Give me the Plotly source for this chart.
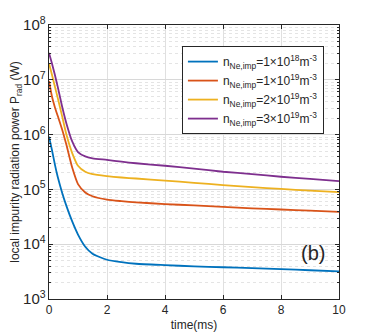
import plotly.graph_objects as go

time_ms = [0, 0.1, 0.2, 0.3, 0.45, 0.6, 0.8, 1.0, 1.25, 1.5, 2, 2.5, 3, 4, 5, 6, 7, 8, 9, 10]
p_1e18 = [9.2e5, 5.3e5, 2.9e5, 1.7e5, 8.8e4, 5.0e4, 2.6e4, 1.5e4, 9.0e3, 6.7e3, 5.2e3, 4.7e3, 4.4e3, 4.15e3, 3.95e3, 3.8e3, 3.65e3, 3.5e3, 3.35e3, 3.2e3]
p_1e19 = [9.5e6, 5.0e6, 3.2e6, 2.2e6, 1.25e6, 6.5e5, 2.5e5, 1.25e5, 8.8e4, 7.5e4, 6.5e4, 6.1e4, 5.8e4, 5.4e4, 5.1e4, 4.8e4, 4.5e4, 4.3e4, 4.1e4, 3.9e4]
p_2e19 = [2.0e7, 1.25e7, 7.6e6, 4.7e6, 2.2e6, 1.0e6, 4.6e5, 2.7e5, 2.1e5, 1.9e5, 1.75e5, 1.65e5, 1.58e5, 1.45e5, 1.32e5, 1.2e5, 1.1e5, 1.02e5, 9.5e4, 8.9e4]
p_3e19 = [3.1e7, 2.0e7, 1.25e7, 7.5e6, 3.3e6, 1.6e6, 7.5e5, 4.8e5, 4.0e5, 3.7e5, 3.45e5, 3.2e5, 3.0e5, 2.7e5, 2.4e5, 2.1e5, 1.9e5, 1.7e5, 1.55e5, 1.42e5]

names = [
    "n<sub>Ne,imp</sub>=1×10<sup>18</sup>m<sup>-3</sup>",
    "n<sub>Ne,imp</sub>=1×10<sup>19</sup>m<sup>-3</sup>",
    "n<sub>Ne,imp</sub>=2×10<sup>19</sup>m<sup>-3</sup>",
    "n<sub>Ne,imp</sub>=3×10<sup>19</sup>m<sup>-3</sup>",
]
colors = ["#0072BD", "#D95319", "#EDB120", "#7E2F8E"]
series = [p_1e18, p_1e19, p_2e19, p_3e19]

fig = go.Figure()
for n, c, s in zip(names, colors, series):
    fig.add_trace(go.Scatter(x=time_ms, y=s, mode="lines", name=n,
                             line=dict(color=c, width=1.8, shape="spline", smoothing=0.6)))

font = "Liberation Sans, Arial, sans-serif"
fig.update_layout(
    width=366, height=328,
    margin=dict(l=41, r=35, t=17, b=37, autoexpand=False),
    paper_bgcolor="white", plot_bgcolor="white",
    font=dict(family=font, size=12, color="#262626"),
    showlegend=True,
    legend=dict(x=0.948, y=0.923, xanchor="right", yanchor="top",
                bgcolor="white", bordercolor="#262626", borderwidth=1,
                font=dict(size=12, color="#262626"), tracegroupgap=0,
                itemwidth=30),
    xaxis=dict(range=[0, 10], dtick=2, tick0=0, showgrid=True, gridcolor="#e0e0e0",
               ticks="inside", ticklen=4, tickcolor="#262626", automargin=False,
               showline=True, linecolor="#262626", linewidth=1, mirror="allticks",
               zeroline=False, tickfont=dict(size=12),
               title=dict(text="time(ms)", standoff=4, font=dict(size=12))),
    yaxis=dict(type="log", range=[3, 8], dtick=1, exponentformat="power",
               showgrid=True, gridcolor="#d8d8d8", automargin=False,
               ticks="inside", ticklen=4, tickcolor="#262626",
               showline=True, linecolor="#262626", linewidth=1, mirror="allticks",
               zeroline=False, tickfont=dict(size=12),
               minor=dict(dtick="D1", showgrid=True, gridcolor="#e4e4e4", griddash="dot",
                          ticks="inside", ticklen=2, tickcolor="#262626"),
               title=dict(text="local impurity radiation power P<sub>rad</sub> (W)",
                          standoff=2, font=dict(size=12))),
)
fig.add_annotation(x=0.959, y=0.168, xref="paper", yref="paper", text="(b)",
                   showarrow=False, xanchor="right", yanchor="middle",
                   font=dict(size=20, color="#262626", family=font))
fig.write_html("out.html")
